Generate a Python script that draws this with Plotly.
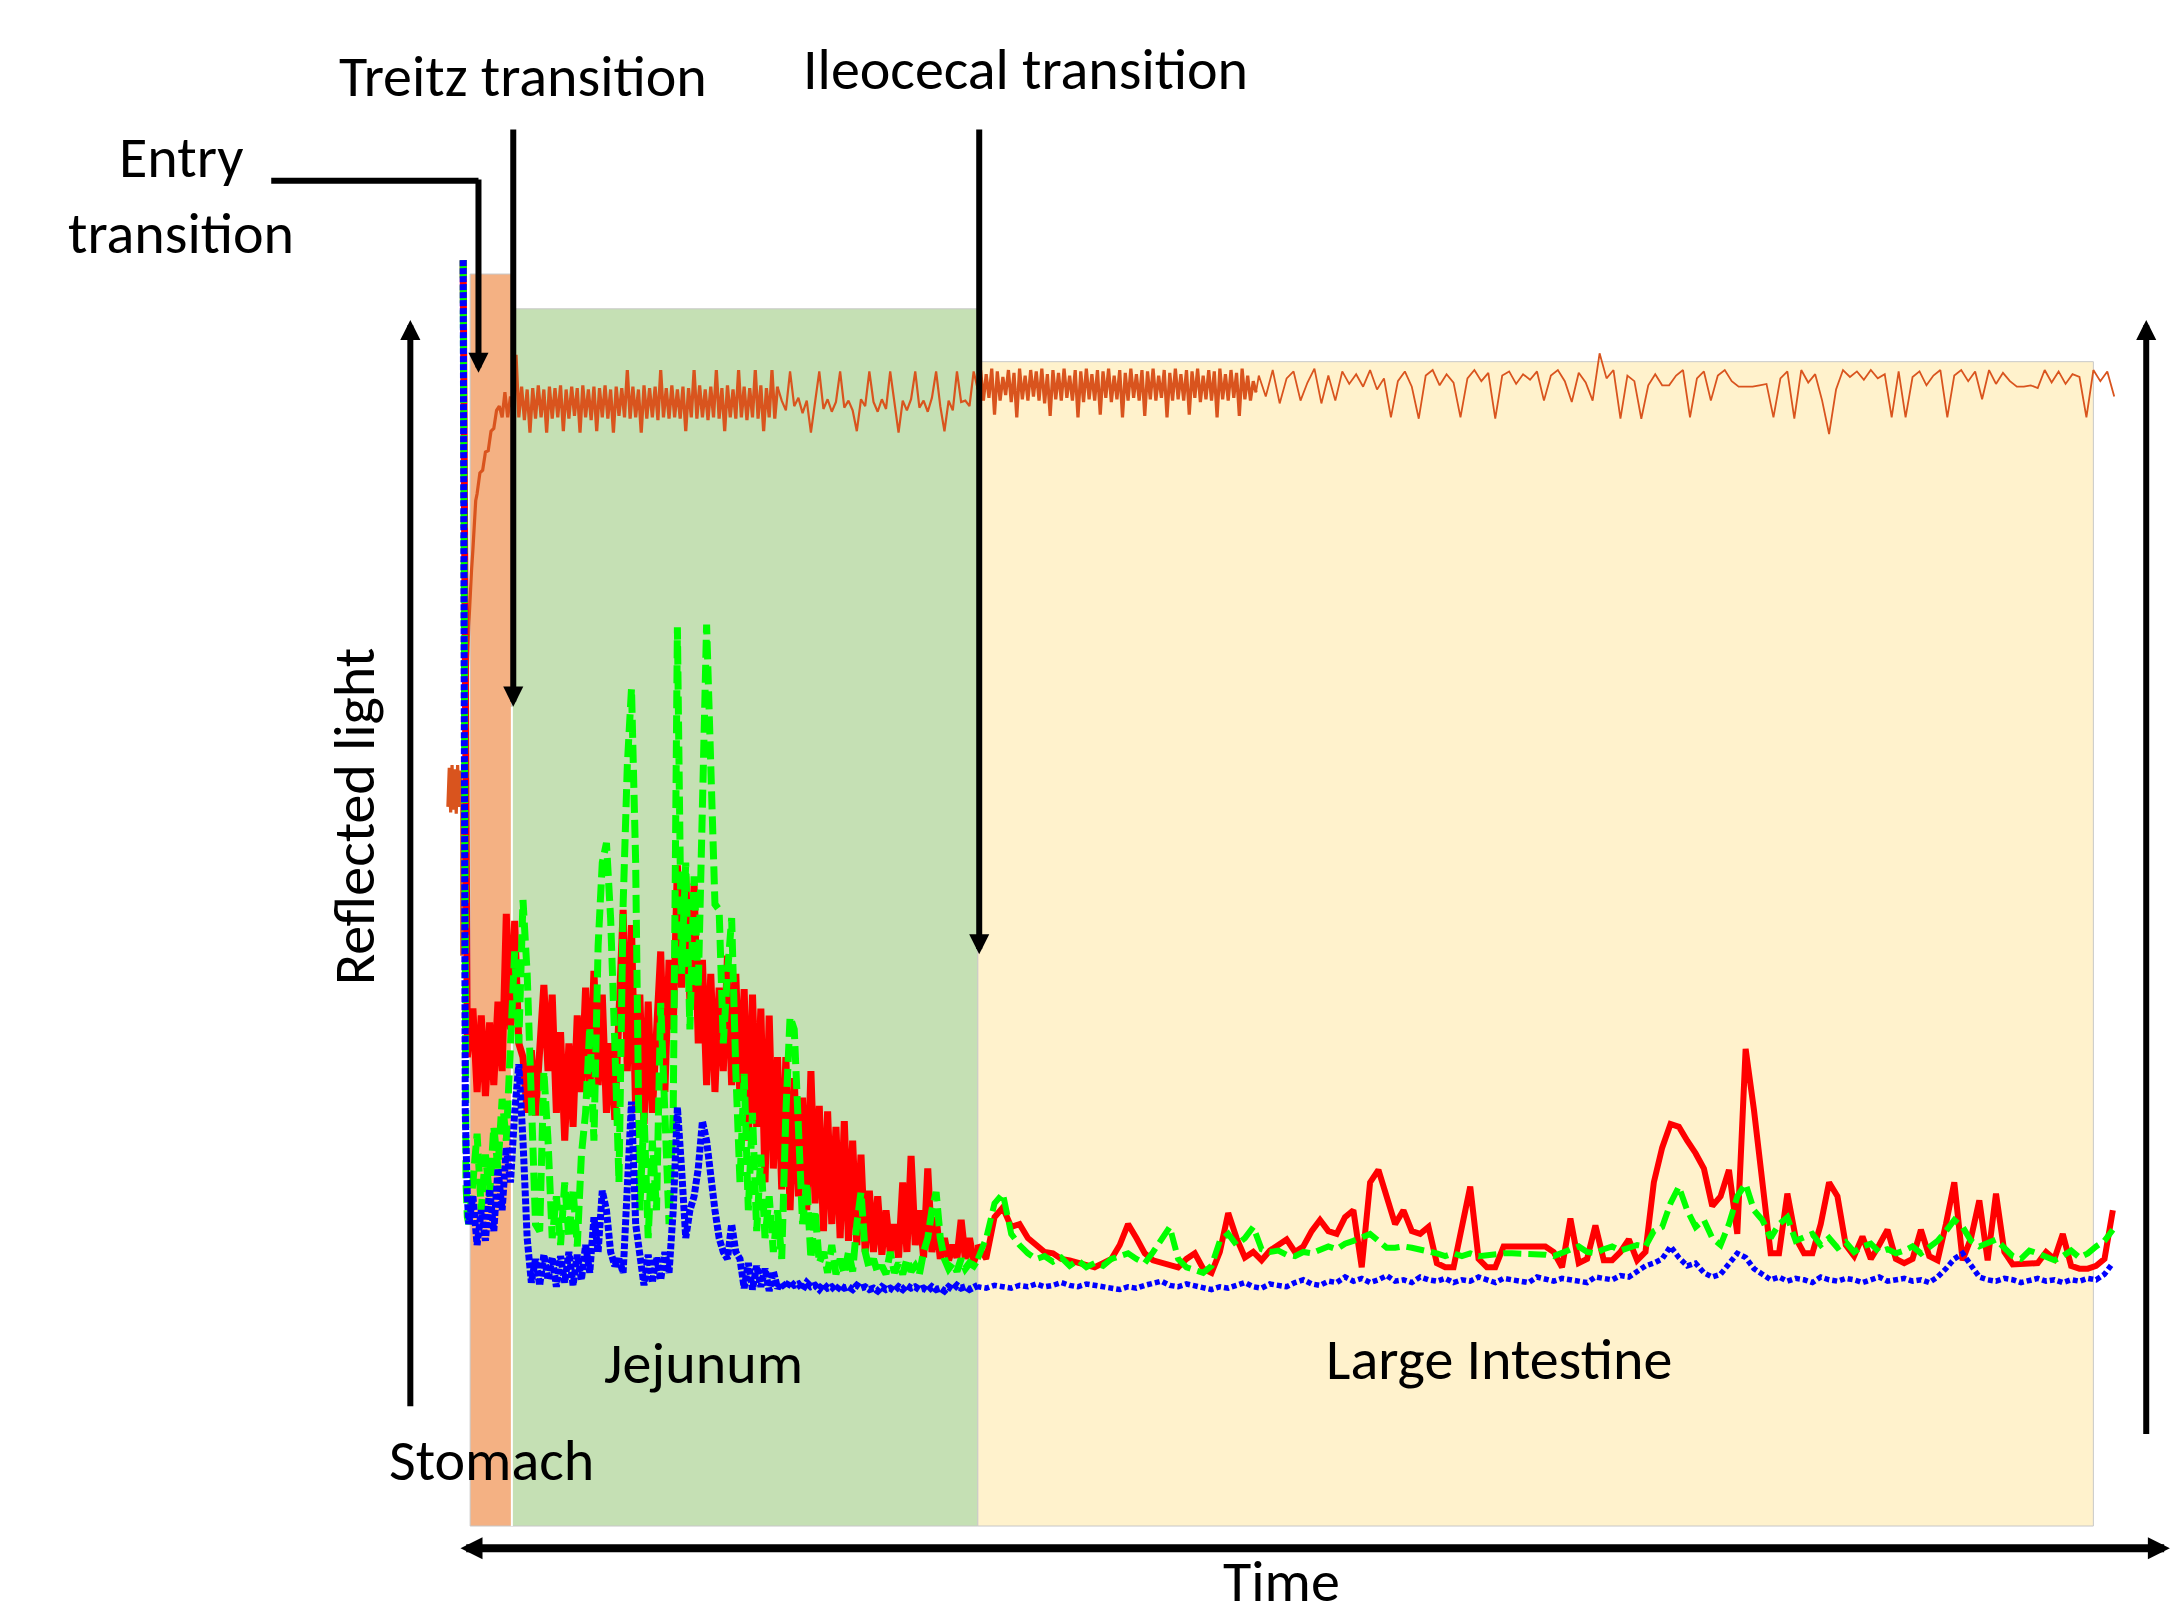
import numpy as np
import plotly.graph_objects as go

# ---------------- data (time in arbitrary sample units, reflected light in arbitrary units) -------------
# Red channel
red_start_t = [8, 9, 10, 11]
red_start_v = [813, 500, 280, 240]
red_jej_v = [250,275,215,270,212,265,220,280,230,343,
             260,338,250,240,200,245,198,240,292,230,
             285,200,258,180,250,190,270,215,290,212,
             302,220,285,200,250,195,260,346,230,335,
             200,285,192,280,200,270,316,215,310,260,
             378,290,370,280,365,250,310,220,300,215,
             290,230,313,220,300,210,289,180,285,190,
             275,150,270,160,240,145,240,130,225,140,
             211,130,230,135,205,115,201,120,190,110,
             194,108,180,105,170,100,144,100,140,98,
             130,100,120,96,150,100,169,105,130,96,
             160,100,125,95,110,94,105,96,123,95,
             110,93,100]
red_li_v = [105,95,125,132,118,120,110,105,100,99,
            95,94,92,90,89,92,95,105,120,110,
            99,94,92,90,89,95,99,88,85,100,
            128,110,96,100,94,101,105,109,100,104,
            115,123,115,113,125,130,89,150,159,140,
            120,130,115,113,118,92,89,89,120,147,
            95,89,89,104,104,104,104,104,104,100,
            89,124,92,95,119,94,94,100,109,94,
            100,150,175,192,190,180,171,160,133,140,
            159,113,246,202,150,99,99,142,110,99,
            99,120,150,140,105,97,111,95,105,116,
            95,92,95,116,97,94,120,150,94,110,
            137,94,142,100,91,91,91,92,100,95,
            113,90,88,88,90,95,130]

# Green channel
green_start_t = [8, 9, 10, 11]
green_start_v = [813, 400, 150, 125]
green_jej_v = [120,150,185,130,170,140,190,160,210,180,
               240,316,250,353,300,200,
               120,115,230,180,110,
               140,105,150,110,145,104,170,
               200,262,180,
               320,380,394,340,250,
               150,350,450,505,380,
               130,200,110,180,130,279,200,120,
               200,549,300,
               380,260,370,290,
               400,551,450,350,
               346,250,300,340,230,
               150,228,130,200,115,170,110,
               140,100,130,95,
               200,269,260,180,
               120,150,95,130,92,
               100,85,105,84,95,84,100,86,120,143,100,
               88,95,85,90,84,100,85,92,84,95,86,90,84,100,110,130,143,110,
               95,88,92,86,95,88,92,90,95]
green_li_v = [95,110,135,142,113,105,99,95,97,93,
              96,90,94,89,92,90,95,97,99,95,
              92,100,110,118,95,89,87,85,90,108,
              113,105,110,118,102,100,101,98,97,100,
              99,102,104,102,106,108,110,113,108,103,
              103,104,103,102,100,99,97,99,97,99,
              97,98,99,99,99,99,99,99,98,97,
              99,101,104,100,99,102,104,101,103,105,
              104,115,118,135,147,130,118,123,110,105,
              120,140,149,130,123,110,120,125,108,110,
              113,105,110,103,107,100,104,106,100,102,
              99,101,104,99,103,108,115,123,118,108,
              104,106,109,103,97,95,101,99,96,94,
              97,101,96,99,104,108,116]

# Blue channel
blue_start_t = [8, 8.3, 9.5, 11]
blue_start_v = [813, 310, 200, 140]
blue_jej_v = [120,140,105,130,108,145,115,160,130,175,150,200,235,180,
              110,78,95,76,98,80,96,75,97,78,100,76,98,80,105,85,
              125,100,144,130,100,
              90,95,85,140,208,120,
              95,76,98,78,96,80,100,85,
              130,204,160,110,
              130,140,
              160,194,180,150,130,
              110,100,95,120,100,
              95,74,92,73,90,75,88,72,86,74,
              78,74,79,76,77,73,78,75,76,73,
              77,74,75,72,76,74,75,73,76,74,
              75,73,74,72,75,73,74,72,75,73,
              76,74,75,73,74,72,75,73,74,72,
              75,73,76,74,75,73,74,76]
blue_li_v = [75,74,76,75,74,76,75,77,75,76,
             78,76,75,77,76,75,74,73,75,74,
             76,77,79,76,75,77,76,74,73,75,
             74,76,78,75,74,77,76,75,78,80,
             77,76,79,78,
             82,79,81,78,80,83,79,80,78,82,
             80,79,81,78,80,79,82,80,78,81,
             80,79,78,82,80,79,81,80,79,78,
             82,81,80,83,82,86,90,
             92,95,104,96,90,92,85,82,84,92,99,96,88,
             84,80,82,79,81,80,78,82,80,79,
             81,80,78,80,82,79,80,81,79,80,
             78,82,88,95,99,90,82,80,79,81,
             80,78,80,81,79,80,78,80,79,81,
             80,84,92]

# Orange trace
orange_blob_t = [-3, -2, -1, 0, 1, 2, 3, 4, 5, 6, 7]
orange_blob_v = [420, 448, 416, 450, 418, 447, 415, 450, 420, 446, 420]
orange_rise_t = [7, 8, 9, 10, 11, 12, 13, 14, 15, 16, 17, 18, 20, 22, 24, 26, 28, 30, 32, 34, 36, 38, 40, 42]
orange_rise_v = [313, 380, 430, 480, 520, 550, 575, 590, 605, 620, 640, 645, 660, 662, 675, 676, 690, 692, 705, 708, 700, 718, 700, 715]
orange_jej_dense_v = [705,745,700,722,698,720,689,721,699,723,
                      700,720,689,722,699,721,700,723,690,720,
                      699,722,701,721,689,723,700,720,698,722,
                      690,721,700,723,699,720,689,722,701,721,
                      700,734,699,722,700,720,689,723,699,721,
                      700,722,698,734,700,721,699,723,700,720,
                      699,722,690,721,700,734,699,723,700,720,
                      698,722,700,734,699,721,690,723,700,720,
                      699,734,700,722,698,721,700,734,699,723,
                      690,721,700,734,699,722]
orange_jej_sparse_v = [712,705,733,708,714,703,712,689,710,733,
                       706,713,704,711,733,707,712,705,690,713,
                       708,733,711,704,713,706,733,710,689,712,
                       705,713,733,707,712,704,714,733,708,690,
                       712,705,733,711,712,708,733,720]
orange_li_dense_v = [734,712,731,714,735,702,733,712,729,716,
                     734,711,732,700,735,713,730,712,734,715,
                     733,712,735,710,731,701,734,713,732,712,
                     735,714,730,712,734,700,733,711,735,713,
                     731,712,734,702,733,714,735,711,730,713,
                     734,700,732,712,735,714,731,712,734,701,
                     733,713,735,712,730,714,734,700,732,712,
                     735,713,731,712,734,702,733,714,735,711,
                     730,713,734,712,733,700,735,713,731,712,
                     734,714,732,701,735,713,730,712,726,718]
orange_li_sparse_v = [730,715,734,710,728,733,712,725,735,710,
                      730,712,733,724,731,722,734,720,728,700,
                      726,733,722,699,730,734,723,731,725,700,
                      728,734,726,732,699,730,733,724,731,727,
                      733,712,730,734,726,711,732,725,712,746,
                      728,734,699,730,726,699,723,731,723,723,
                      730,734,700,728,733,712,730,734,726,722,
                      722,722,723,724,700,728,733,699,734,725,
                      731,712,688,720,734,729,733,727,734,728,
                      731,700,733,700,729,733,723,730,734,700,
                      730,734,726,733,713,734,724,732,726,722,
                      722,723,721,734,725,733,724,731,729,700,
                      734,726,733,715]

# regions (time boundaries) and their heights
region_names = ["Stomach", "Jejunum", "Large Intestine"]
region_start = [13, 43, 378]
region_end = [43, 378, 1180]
region_top = [803, 778, 740]
region_bottom = -97
region_colors = ["#F4B183", "#C5E0B4", "#FFF2CC"]

# ---------------- build series -------------
def two_parts(start_t, start_v, jej_v, li_v):
    jt = 12 + 3 * np.arange(len(jej_v))
    lt = 378 + 6 * np.arange(len(li_v))
    early_t = np.concatenate([start_t, jt])
    early_v = np.concatenate([start_v, jej_v])
    late_t = np.concatenate([[early_t[-1]], lt])
    late_v = np.concatenate([[early_v[-1]], li_v])
    return (early_t, early_v), (late_t, late_v)

red_e, red_l = two_parts(red_start_t, red_start_v, red_jej_v, red_li_v)
green_e, green_l = two_parts(green_start_t, green_start_v, green_jej_v, green_li_v)
blue_e, blue_l = two_parts(blue_start_t, blue_start_v, blue_jej_v, blue_li_v)

o1_t = np.concatenate([orange_blob_t, orange_rise_t, 44 + 2 * np.arange(len(orange_jej_dense_v))])
o1_v = np.concatenate([orange_blob_v, orange_rise_v, orange_jej_dense_v])
o2_t = np.concatenate([[o1_t[-1]], 237 + 3 * np.arange(len(orange_jej_sparse_v))])
o2_v = np.concatenate([[o1_v[-1]], orange_jej_sparse_v])
o3_t = np.concatenate([[o2_t[-1]], 380 + 2 * np.arange(len(orange_li_dense_v))])
o3_v = np.concatenate([[o2_v[-1]], orange_li_dense_v])
o4_t = np.concatenate([[o3_t[-1]], 580 + 5 * np.arange(len(orange_li_sparse_v))])
o4_v = np.concatenate([[o3_v[-1]], orange_li_sparse_v])

fig = go.Figure()

def add_line(t, v, color, width, dash="solid"):
    fig.add_trace(go.Scatter(x=t, y=v, mode="lines", hoverinfo="skip",
                             line=dict(color=color, width=width, dash=dash)))

ORANGE = "#D9541E"
add_line(o1_t, o1_v, ORANGE, 3.2)
add_line(o2_t, o2_v, ORANGE, 2.2)
add_line(o3_t, o3_v, ORANGE, 3.2)
add_line(o4_t, o4_v, ORANGE, 1.8)

add_line(*red_e, "#FF0000", 7)
add_line(*red_l, "#FF0000", 6)
add_line(*green_e, "#00FF00", 7, "18px,7px")
add_line(*green_l, "#00FF00", 6, "18px,7px")
add_line(*blue_e, "#0000FF", 7, "6px,2px")
add_line(*blue_l, "#0000FF", 5.5, "5px,3px")

shapes = []
for x0, x1, top, col in zip(region_start, region_end, region_top, region_colors):
    shapes.append(dict(type="rect", xref="x", yref="y", x0=x0, x1=x1, y0=region_bottom, y1=top,
                       fillcolor=col, line=dict(color="#C8C8C8", width=1), layer="below"))
# white separator between stomach and jejunum
shapes.append(dict(type="line", xref="x", yref="y", x0=43, x1=43, y0=region_bottom, y1=492,
                   line=dict(color="white", width=2), layer="below"))
# entry transition connector (horizontal part)
shapes.append(dict(type="line", xref="x", yref="y", x0=-130, x1=19, y0=870, y1=870,
                   line=dict(color="black", width=6)))

FONT = "Carlito, Calibri, Lato, sans-serif"

def arrow(x, y, ax, ay, width=6, size=0.67, side="end"):
    d = dict(x=x, y=y, ax=ax, ay=ay, xref="x", yref="y", axref="x", ayref="y",
             showarrow=True, arrowhead=2, arrowsize=size, arrowwidth=width,
             arrowcolor="black", arrowside=side, text="", standoff=0, startstandoff=0)
    if "start" in side:
        d.update(startarrowhead=2, startarrowsize=size)
    return d

def label(text, x, y, angle=0):
    return dict(text=text, x=x, y=y, xref="x", yref="y", showarrow=False,
                textangle=angle, font=dict(family=FONT, size=58, color="black"),
                xanchor="center", yanchor="middle")

annotations = [
    arrow(-30, 770, -30, -12),
    arrow(1218, 770, 1218, -32),
    arrow(1235, -113, 5, -113, width=8, size=0.55, side="end+start"),
    arrow(19, 732, 19, 872),
    arrow(44, 492, 44, 908),
    arrow(379, 314, 379, 908),
    label("Treitz transition", 51, 945),
    label("Ileocecal transition", 412, 950),
    label("Entry", -195, 887),
    label("transition", -195, 832),
    label("Reflected light", -70, 413, angle=-90),
    label(region_names[1], 181, 20),
    label(region_names[2], 753, 23),
    label(region_names[0], 28, -50),
    label("Time", 596, -137),
]

fig.update_layout(
    width=2181, height=1622,
    margin=dict(l=0, r=0, t=0, b=0),
    paper_bgcolor="white", plot_bgcolor="white",
    showlegend=False,
    xaxis=dict(range=[-325, 1243], visible=False, fixedrange=True),
    yaxis=dict(range=[-166, 1000], visible=False, fixedrange=True),
    shapes=shapes,
    annotations=annotations,
)

fig.write_html("out.html", config={"displayModeBar": False},
               post_script="document.body.style.margin='0';document.body.style.overflow='hidden';")
